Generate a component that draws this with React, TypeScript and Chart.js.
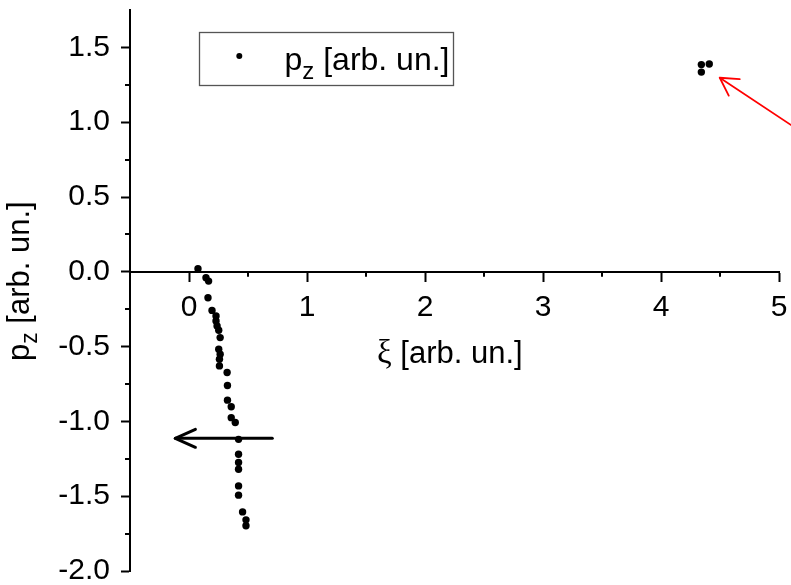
import React, { useEffect, useRef } from "react";
import { Chart, registerables } from "chart.js";

Chart.register(...registerables);

// Momentum component p_z against the xi coordinate
const xiValues = [
  0.076, 0.144, 0.166, 0.161, 0.195, 0.229, 0.229, 0.238, 0.252, 0.264,
  0.252, 0.264, 0.258, 0.258, 0.323, 0.326, 0.326, 0.358, 0.358, 0.392,
  0.42, 0.42, 0.42, 0.42, 0.42, 0.42, 0.454, 0.483, 0.483,
  4.342, 4.409, 4.342,
];
const pzValues = [
  0.02, -0.04, -0.062, -0.173, -0.258, -0.295, -0.329, -0.362, -0.391, -0.44,
  -0.518, -0.551, -0.585, -0.629, -0.673, -0.76, -0.858, -0.902, -0.975, -1.007,
  -1.12, -1.22, -1.275, -1.32, -1.431, -1.493, -1.605, -1.658, -1.698,
  1.385, 1.389, 1.335,
];

// Axis ticks
const xMajorTicks = [0, 1, 2, 3, 4, 5];
const xMinorTicks = [0.5, 1.5, 2.5, 3.5, 4.5];
const yMajorTicks = [-2, -1.5, -1, -0.5, 0, 0.5, 1, 1.5];
const yMinorTicks = [-1.75, -1.25, -0.75, -0.25, 0.25, 0.75, 1.25];

// Arrows pointing at features, in data coordinates: [tail, tip]
const blackArrow = [[0.706, -1.113], [-0.116, -1.113]];
const redArrow = [[5.121, 0.971], [4.498, 1.297]];

const SANS = '"Liberation Sans", Arial, sans-serif';
const SERIF = '"Liberation Serif", "Times New Roman", serif';

function drawArrow(ctx, sx, sy, ex, ey, color, width, headLen, headAngle) {
  const ang = Math.atan2(sy - ey, sx - ex);
  ctx.save();
  ctx.strokeStyle = color;
  ctx.lineWidth = width;
  ctx.lineCap = "round";
  ctx.lineJoin = "round";
  ctx.beginPath();
  ctx.moveTo(sx, sy);
  ctx.lineTo(ex, ey);
  ctx.stroke();
  ctx.beginPath();
  ctx.moveTo(ex + headLen * Math.cos(ang + headAngle), ey + headLen * Math.sin(ang + headAngle));
  ctx.lineTo(ex, ey);
  ctx.lineTo(ex + headLen * Math.cos(ang - headAngle), ey + headLen * Math.sin(ang - headAngle));
  ctx.stroke();
  ctx.restore();
}

// Draws "p" with subscript "z" followed by a unit string, starting at (0,0)
function drawPz(ctx, size, subSize, subShift, unit) {
  ctx.textAlign = "left";
  ctx.textBaseline = "alphabetic";
  ctx.font = `${size}px ${SANS}`;
  ctx.fillText("p", 0, 0);
  let x = ctx.measureText("p").width;
  ctx.font = `${subSize}px ${SANS}`;
  ctx.fillText("z", x, subShift);
  x += ctx.measureText("z").width;
  ctx.font = `${size}px ${SANS}`;
  ctx.fillText(unit, x, 0);
}

const decorPlugin = {
  id: "decor",
  afterDraw(chart) {
    const { ctx } = chart;
    const xs = chart.scales.x;
    const ys = chart.scales.y;
    const y0 = ys.getPixelForValue(0);
    const left = chart.chartArea.left;

    ctx.save();
    // minor ticks
    ctx.strokeStyle = "#000";
    ctx.lineWidth = 2;
    ctx.beginPath();
    xMinorTicks.forEach((v) => {
      const px = Math.round(xs.getPixelForValue(v));
      ctx.moveTo(px, y0);
      ctx.lineTo(px, y0 + 5);
    });
    yMinorTicks.forEach((v) => {
      const py = Math.round(ys.getPixelForValue(v));
      ctx.moveTo(left, py);
      ctx.lineTo(left - 5, py);
    });
    ctx.stroke();

    // arrows
    drawArrow(
      ctx,
      xs.getPixelForValue(blackArrow[0][0]), ys.getPixelForValue(blackArrow[0][1]),
      xs.getPixelForValue(blackArrow[1][0]), ys.getPixelForValue(blackArrow[1][1]),
      "#000", 3, 22, 0.42
    );
    drawArrow(
      ctx,
      xs.getPixelForValue(redArrow[0][0]), ys.getPixelForValue(redArrow[0][1]),
      xs.getPixelForValue(redArrow[1][0]), ys.getPixelForValue(redArrow[1][1]),
      "#ff0000", 1.8, 20, 0.52
    );

    // x axis title
    ctx.fillStyle = "#000";
    ctx.textBaseline = "alphabetic";
    ctx.textAlign = "left";
    ctx.font = `33px ${SERIF}`;
    ctx.fillText("\u03be", 377, 363);
    const xiW = ctx.measureText("\u03be").width;
    ctx.font = `31px ${SANS}`;
    ctx.fillText(" [arb. un.]", 377 + xiW, 363);

    // y axis title
    ctx.save();
    ctx.translate(29, 361);
    ctx.rotate(-Math.PI / 2);
    drawPz(ctx, 31, 23, 8, " [arb. un.]");
    ctx.restore();

    // legend
    ctx.strokeStyle = "#555";
    ctx.lineWidth = 1.3;
    ctx.strokeRect(199.5, 32.5, 254, 53);
    ctx.fillStyle = "#000";
    ctx.beginPath();
    ctx.arc(239.3, 56, 3, 0, Math.PI * 2);
    ctx.fill();
    ctx.save();
    ctx.translate(284.5, 69.5);
    drawPz(ctx, 32, 24, 9, " [arb. un.]");
    ctx.restore();

    ctx.restore();
  },
};

export default function App() {
  const canvasRef = useRef(null);

  useEffect(() => {
    const points = xiValues.map((x, i) => ({ x, y: pzValues[i] }));
    const chart = new Chart(canvasRef.current, {
      type: "scatter",
      data: {
        datasets: [
          {
            label: "pz [arb. un.]",
            data: points,
            pointRadius: 3.7,
            pointHoverRadius: 3.7,
            pointBackgroundColor: "#000",
            pointBorderWidth: 0,
            showLine: false,
          },
        ],
      },
      options: {
        responsive: false,
        animation: false,
        events: [],
        layout: { padding: { left: 0, top: 10, right: 12, bottom: 14 } },
        plugins: { legend: { display: false }, tooltip: { enabled: false }, title: { display: false } },
        scales: {
          x: {
            type: "linear",
            min: -0.5,
            max: 5,
            position: { y: 0 },
            afterBuildTicks: (s) => {
              s.ticks = xMajorTicks.map((value) => ({ value }));
            },
            afterFit: (s) => {
              s.paddingLeft = 0;
              s.paddingRight = 0;
            },
            ticks: {
              font: { family: SANS, size: 30 },
              color: "#000",
              padding: 9,
              maxRotation: 0,
              autoSkip: false,
              callback: (v) => String(v),
            },
            grid: {
              display: true,
              drawOnChartArea: false,
              drawTicks: true,
              tickLength: 9,
              tickWidth: 2,
              tickColor: "#000",
            },
            border: { display: true, color: "#000", width: 2 },
          },
          y: {
            type: "linear",
            min: -2,
            max: 1.75,
            position: "left",
            afterBuildTicks: (s) => {
              s.ticks = yMajorTicks.map((value) => ({ value }));
            },
            afterFit: (s) => {
              s.width = 130;
              s.paddingTop = 0;
              s.paddingBottom = 0;
            },
            ticks: {
              font: { family: SANS, size: 30 },
              color: "#000",
              padding: 11,
              autoSkip: false,
              callback: (v) => Number(v).toFixed(1),
            },
            grid: {
              display: true,
              drawOnChartArea: false,
              drawTicks: true,
              tickLength: 9,
              tickWidth: 2,
              tickColor: "#000",
            },
            border: { display: true, color: "#000", width: 2 },
          },
        },
      },
      plugins: [decorPlugin],
    });
    return () => chart.destroy();
  }, []);

  return (
    <div style={{ position: "fixed", left: 0, top: 0, width: 791, height: 585, background: "#fff" }}>
      <canvas ref={canvasRef} width={791} height={585} style={{ display: "block" }} />
    </div>
  );
}
